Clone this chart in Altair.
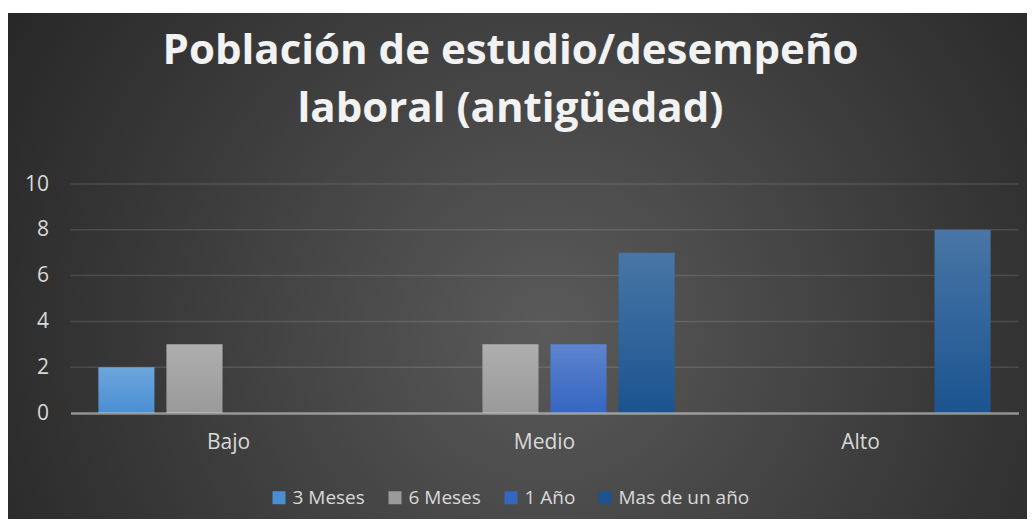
import altair as alt
import pandas as pd

# ---- data ----
categories = ["Bajo", "Medio", "Alto"]
series = ["3 Meses", "6 Meses", "1 Año", "Mas de un año"]
v_3_meses = [2, 0, 0]
v_6_meses = [3, 3, 0]
v_1_anio = [0, 3, 0]
v_mas_anio = [0, 7, 8]
y_ticks = [0, 2, 4, 6, 8, 10]
grid_values = [2, 4, 6, 8, 10]
title_lines = ["Población de estudio/desempeño", "laboral (antigüedad)"]

colors = ["#4a8fd4", "#9a9a9a", "#3566c2", "#1b5490"]

rows = []
for s, vals in zip(series, [v_3_meses, v_6_meses, v_1_anio, v_mas_anio]):
    for c, v in zip(categories, vals):
        rows.append({"cat": c, "serie": s, "valor": v})
df = pd.DataFrame(rows)
grid_df = pd.DataFrame({"valor": grid_values})

FONT = "Open Sans"
W, H = 948, 229
PAD_L, PAD_T, PAD_R, PAD_B = 62.5, 176, 8.5, 106

# decorative radial background covering the whole chart
bg = alt.Chart(alt.Data(values=[{}])).mark_rect(
    color=alt.RadialGradient(
        gradient="radial",
        stops=[alt.GradientStop(color="#5a5a5a", offset=0),
               alt.GradientStop(color="#3a3a3a", offset=0.6),
               alt.GradientStop(color="#262626", offset=1)],
        x1=0.52, y1=0.55, x2=0.52, y2=0.55, r1=0, r2=0.62,
    )
).encode(
    x=alt.value(-PAD_L), x2=alt.value(W + PAD_R + 20),
    y=alt.value(-PAD_T + 5), y2=alt.value(H + PAD_B + 20),
)

grid = alt.Chart(grid_df).mark_rule(color="#ffffff", opacity=0.12, strokeWidth=1.5).encode(
    y=alt.Y("valor:Q")
)

base = alt.Chart(df).encode(
    x=alt.X("cat:N", sort=categories,
            scale=alt.Scale(paddingInner=0, paddingOuter=0),
            axis=alt.Axis(title=None, labelAngle=0, ticks=False, grid=False,
                          domainColor="#d2d2d2", domainOpacity=0.6, domainWidth=2.5,
                          labelFont=FONT, labelFontSize=21, labelColor="#d9d9d9",
                          labelPadding=18, zindex=1)),
    xOffset=alt.XOffset("serie:N", sort=series,
                        scale=alt.Scale(paddingInner=0.1765, paddingOuter=0.41)),
    y=alt.Y("valor:Q", scale=alt.Scale(domain=[0, 10]),
            axis=alt.Axis(title=None, values=y_ticks, domain=False, ticks=False, grid=False,
                          labelFont=FONT, labelFontSize=21, labelColor="#d9d9d9",
                          labelPadding=22, zindex=1)),
)

bars = base.mark_bar().encode(
    color=alt.Color("serie:N", sort=series,
                    scale=alt.Scale(domain=series, range=colors),
                    legend=alt.Legend(title=None, orient="none", direction="horizontal",
                                      legendX=199, legendY=304,
                                      labelFont=FONT, labelFontSize=19, labelColor="#d9d9d9",
                                      symbolType="square", symbolSize=169, symbolStrokeWidth=0,
                                      symbolOpacity=1, columnPadding=20, labelOffset=4,
                                      zindex=1))
)

shine = base.mark_bar(
    color=alt.LinearGradient(
        gradient="linear",
        stops=[alt.GradientStop(color="rgba(255,255,255,0.2)", offset=0),
               alt.GradientStop(color="rgba(255,255,255,0)", offset=1)],
        x1=0, x2=0, y1=0, y2=1,
    )
)

chart = alt.layer(bg, grid, bars, shine).properties(
    width=W, height=H,
    title=alt.TitleParams(text=title_lines, font=FONT, fontSize=42, fontWeight="bold",
                          color="#f2f2f2", anchor="middle", dx=-34, offset=-118,
                          lineHeight=58, zindex=1),
    padding={"left": PAD_L, "top": PAD_T, "right": PAD_R, "bottom": PAD_B},
    autosize=alt.AutoSizeParams(type="none"),
).configure(background="white").configure_view(stroke=None)

chart.save("out.html", embed_options={"renderer": "svg", "actions": False})
